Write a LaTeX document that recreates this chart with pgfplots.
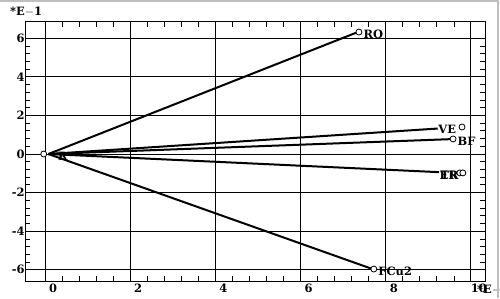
\documentclass[border=0pt]{standalone}
\usepackage{fontspec}
\setmainfont{DejaVu Serif}
\usepackage{pgfplots}
\pgfplotsset{compat=1.18}
\newcommand{\lf}{\bfseries\fontsize{11.5}{12}\selectfont}
\begin{document}
\begin{tikzpicture}
\begin{axis}[
  scale only axis, width=460bp, height=259bp,
  xmin=-0.47, xmax=10.33, ymin=-6.58, ymax=6.84,
  xtick={0,2,...,10}, ytick={-6,-4,...,6},
  minor tick num=4,
  tick align=inside,
  major tick length=0pt,
  minor tick length=5bp,
  grid=major,
  major grid style={black, line width=1bp},
  axis line style={line width=1bp},
  every tick/.style={black, line width=0.8bp},
  /pgf/number format/assume math mode=true,
  tick label style={font=\lf},
  xticklabel style={xshift=8bp, yshift=1bp},
  yticklabel style={xshift=3bp},
  clip=false,
]
\addplot[black, line width=2bp] coordinates {(0.08,0) (7.30,6.28)};
\addplot[black, line width=2bp] coordinates {(0.08,0) (9.22,1.32)};
\addplot[black, line width=2bp] coordinates {(0.08,0) (9.52,0.77)};
\addplot[black, line width=2bp] coordinates {(0.08,0) (9.25,-0.94)};
\addplot[black, line width=2bp] coordinates {(0.08,0) (7.65,-5.93)};
\addplot[only marks, mark=*, mark size=3bp, mark options={fill=white, draw=black, line width=0.8bp}]
  coordinates {(-0.03,0) (7.37,6.32) (9.79,1.40) (9.58,0.78) (9.74,-0.98) (9.81,-0.98) (7.72,-5.96)};
\begin{scope}[every node/.style={font=\lf, inner sep=1bp}]
\node[anchor=west] at (axis cs:7.45,6.22) {RO};
\node[anchor=east] at (axis cs:9.68,1.30) {VE};
\node[anchor=west] at (axis cs:9.66,0.68) {BF};
\node[anchor=east] at (axis cs:9.72,-1.08) {ER};
\node[anchor=east] at (axis cs:9.74,-1.08) {TR};
\node[anchor=west] at (axis cs:7.80,-6.06) {FCu2};
\node[anchor=west] at (axis cs:0.28,-0.12) {R};
\end{scope}
\node[anchor=base west, inner sep=0pt, font=\lf]
  at ([shift={(-15bp,6bp)}]rel axis cs:0,1) {*E$-$1};
\node[anchor=base west, inner sep=0pt, font=\lf]
  at ([shift={(-8bp,-12bp)}]rel axis cs:1,0) {*E$-$1};
\end{axis}
\pgfresetboundingbox
\path[use as bounding box] ([shift={(-25bp,-17bp)}]current axis.south west) rectangle ([shift={(15bp,22bp)}]current axis.north east);
\draw[black!25, line width=2bp] ([shift={(-25bp,21bp)}]current axis.north west) -- ([shift={(13bp,21bp)}]current axis.north east) -- ([shift={(13bp,-17bp)}]current axis.south east);
\end{tikzpicture}
\end{document}
